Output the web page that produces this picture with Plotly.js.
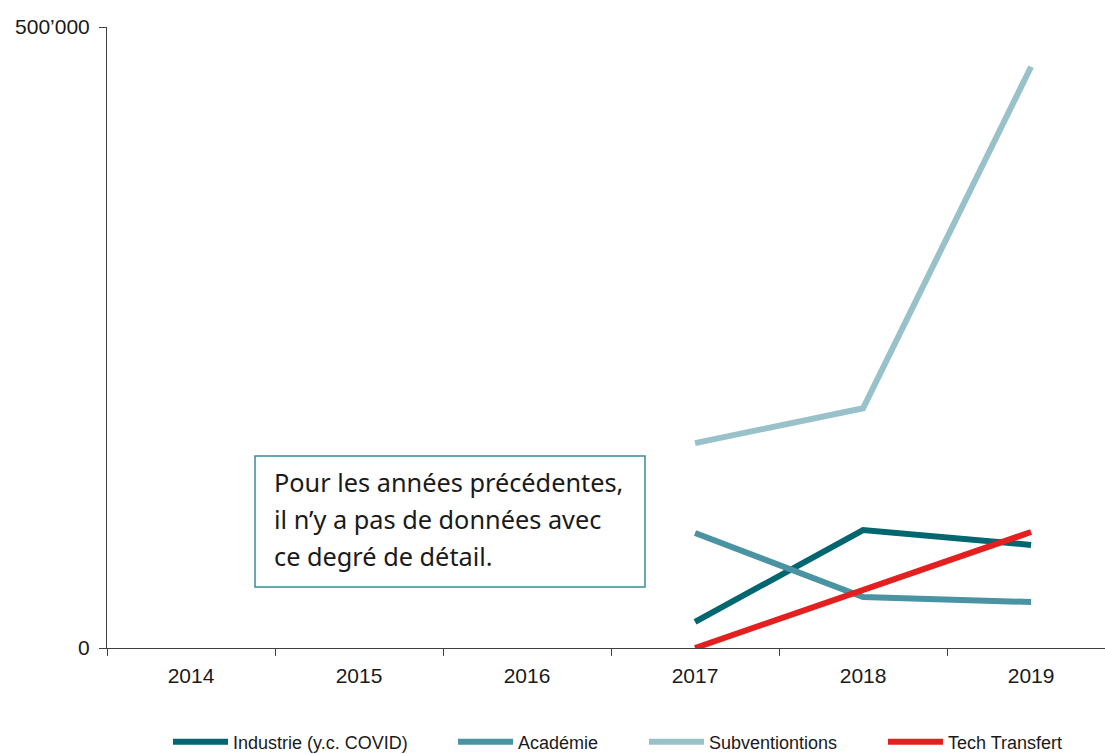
<!DOCTYPE html>
<html>
<head>
<meta charset="utf-8">
<script src="https://cdn.plot.ly/plotly-3.0.1.min.js"></script>
<style>html,body{margin:0;padding:0;background:#fff;}#chart{width:1105px;height:754px;}</style>
</head>
<body>
<div id="chart"></div>
<script>
const years = ['2014', '2015', '2016', '2017', '2018', '2019'];
const industrie = [null, null, null, 21000, 95000, 83000];
const academie = [null, null, null, 92600, 41000, 37000];
const subventions = [null, null, null, 165000, 193000, 468000];
const techTransfert = [null, null, null, 0, 47000, 93400];
const seriesNames = ['Industrie (y.c. COVID)', 'Académie', 'Subventiontions', 'Tech Transfert'];
const yTickVals = [0, 500000];
const yTickText = ['0', '500’000'];
const noteLines = ['Pour les années précédentes,', 'il n’y a pas de données avec', 'ce degré de détail.'];

const sans = '"Liberation Sans", Arial, sans-serif';
const colors = ['#00666F', '#4A93A2', '#98C1CA', '#E3201F'];
const seriesData = [industrie, academie, subventions, techTransfert];
const legendIds = ['legend', 'legend2', 'legend3', 'legend4'];
const legendStartsPx = [168, 453, 644, 883];

const traces = seriesData.map((vals, i) => ({
  type: 'scatter',
  mode: 'lines',
  x: years,
  y: vals,
  name: seriesNames[i],
  legend: legendIds[i],
  line: {color: colors[i], width: 6},
  connectgaps: false,
  hoverinfo: 'x+y+name'
}));

const annotations = noteLines.map((t, i) => ({
  xref: 'paper', yref: 'paper',
  x: (272 - 107) / 998,
  y: (648 - (482 + i * 37)) / 621,
  xanchor: 'left', yanchor: 'middle',
  text: t,
  showarrow: false,
  font: {family: '"Noto Sans", "Open Sans", sans-serif', size: 25.3, color: '#1a1a1a'}
}));

const layout = {
  width: 1105,
  height: 754,
  margin: {l: 107, r: 0, t: 27, b: 106, autoexpand: false},
  paper_bgcolor: '#ffffff',
  plot_bgcolor: '#ffffff',
  showlegend: true,
  xaxis: {
    type: 'category',
    range: [-0.5, 5.44],
    tickson: 'boundaries',
    ticks: 'outside',
    ticklen: 7,
    tickwidth: 1,
    tickcolor: '#404040',
    showline: true,
    linecolor: '#404040',
    linewidth: 1,
    showgrid: false,
    zeroline: false,
    ticklabelstandoff: 9,
    tickfont: {family: sans, size: 21, color: '#1a1a1a'}
  },
  yaxis: {
    range: [0, 500000],
    tickmode: 'array',
    tickvals: yTickVals,
    ticktext: yTickText,
    ticks: 'outside',
    ticklen: 7,
    tickwidth: 1,
    tickcolor: '#404040',
    showline: true,
    linecolor: '#404040',
    linewidth: 1,
    showgrid: false,
    zeroline: false,
    ticklabelstandoff: 5,
    tickfont: {family: sans, size: 21, color: '#1a1a1a'}
  },
  shapes: [{
    type: 'rect', xref: 'paper', yref: 'paper',
    x0: (255 - 107) / 998, x1: (645 - 107) / 998,
    y0: (648 - 587) / 621, y1: (648 - 456) / 621,
    line: {color: '#3A8C98', width: 1.5},
    fillcolor: 'rgba(255,255,255,0)'
  }],
  annotations: annotations
};

legendIds.forEach((id, i) => {
  layout[id] = {
    orientation: 'h',
    xref: 'paper', yref: 'container',
    x: (legendStartsPx[i] - 107) / 998,
    y: (754 - 742) / 754,
    xanchor: 'left', yanchor: 'middle',
    font: {family: sans, size: 18, color: '#1a1a1a'},
    itemwidth: 55,
    bgcolor: 'rgba(0,0,0,0)'
  };
});

Plotly.newPlot('chart', traces, layout, {displayModeBar: false, staticPlot: true});
</script>
</body>
</html>
